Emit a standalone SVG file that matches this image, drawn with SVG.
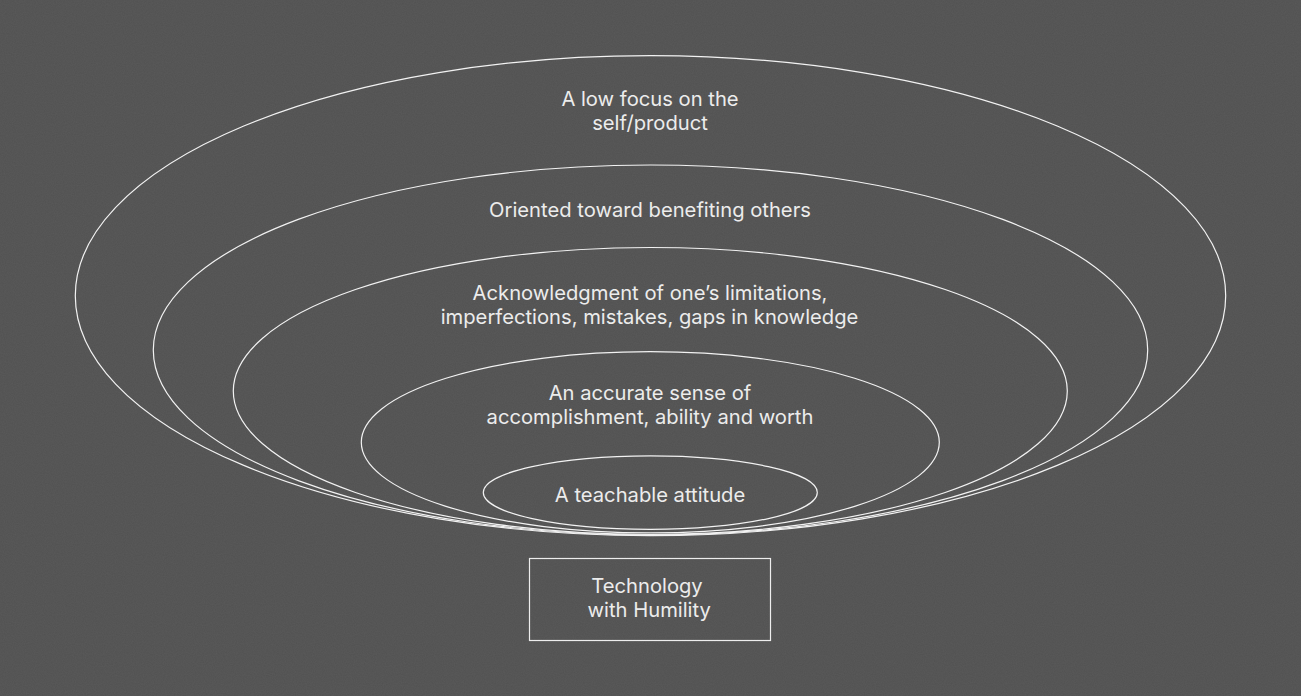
<svg xmlns="http://www.w3.org/2000/svg" width="1301" height="696" viewBox="0 0 1301 696">
<defs>
<filter id="grain" x="0" y="0" width="100%" height="100%">
<feTurbulence type="fractalNoise" baseFrequency="0.9" numOctaves="2" seed="3" result="n"/>
<feColorMatrix type="matrix" values="0 0 0 0 1  0 0 0 0 1  0 0 0 0 1  0 0 0 0.05 0" in="n"/>
</filter>
</defs>
<style>
.ring{fill:none;stroke:#f2f2f2;stroke-width:1.2}
.box{fill:none;stroke:#ededed;stroke-width:1.2}
.lbl{font-family:Inter,"Noto Sans","Liberation Sans",sans-serif;font-size:20.2px;fill:#ececec;text-anchor:middle}
</style>
<rect width="1301" height="696" fill="#515151"/>
<rect width="1301" height="696" filter="url(#grain)"/>
<g id="ring1">
<ellipse class="ring" cx="650.5" cy="295.7" rx="575.2" ry="240"/>
<text class="lbl" x="650" y="106">A low focus on the</text>
<text class="lbl" x="650" y="130">self/product</text>
</g>
<g id="ring2">
<ellipse class="ring" cx="650.5" cy="350" rx="497.2" ry="185"/>
<text class="lbl" x="650" y="217">Oriented toward benefiting others</text>
</g>
<g id="ring3">
<ellipse class="ring" cx="650.3" cy="391" rx="417" ry="143.5"/>
<text class="lbl" x="650" y="300.3">Acknowledgment of one’s limitations,</text>
<text class="lbl" x="649.5" y="324.3">imperfections, mistakes, gaps in knowledge</text>
</g>
<g id="ring4">
<ellipse class="ring" cx="650.3" cy="442.3" rx="289" ry="90.6"/>
<text class="lbl" x="650" y="399.6">An accurate sense of</text>
<text class="lbl" x="650" y="423.6">accomplishment, ability and worth</text>
</g>
<g id="ring5">
<ellipse class="ring" cx="650.3" cy="492.6" rx="167" ry="36.7"/>
<text class="lbl" x="650" y="502">A teachable attitude</text>
</g>
<g id="title">
<rect class="box" x="529.5" y="558.5" width="241" height="82"/>
<text class="lbl" x="647" y="593">Technology</text>
<text class="lbl" x="649.2" y="617">with Humility</text>
</g>
<g id="connectors"></g>
</svg>
